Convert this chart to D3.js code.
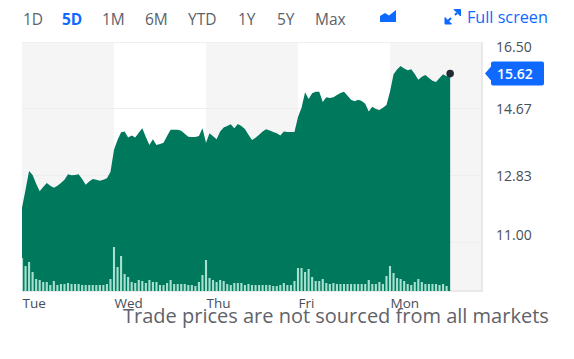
<!DOCTYPE html>
<html>
<head>
<meta charset="utf-8">
<script src="https://cdn.jsdelivr.net/npm/d3@7"></script>
<style>
  html, body { margin: 0; padding: 0; background: #fff; }
  svg { display: block; }
  text { font-family: "Open Sans", sans-serif; }
</style>
</head>
<body>
<div id="chart"></div>
<script>
// 15 minute samples over the five sessions, 26 samples per session
const dayLabels = ["Tue", "Wed", "Thu", "Fri", "Mon"];
const samplesPerDay = 26;
const rangeLabels = ["1D", "5D", "1M", "6M", "YTD", "1Y", "5Y", "Max"];
const priceTicks = [16.5, 14.67, 12.83, 11.0];
const lastPrice = 15.62;

const prices = [
  11.94, 12.43, 12.95, 12.84, 12.60, 12.39, 12.51, 12.62, 12.54, 12.49, 12.54, 12.62, 12.71,
  12.86, 12.83, 12.84, 12.86, 12.73, 12.57, 12.66, 12.73, 12.71, 12.68, 12.71, 12.75, 12.92,
  13.53, 13.80, 14.01, 14.03, 13.87, 13.92, 13.87, 14.00, 14.12, 13.88, 13.66, 13.82, 13.66,
  13.69, 13.72, 13.91, 14.08, 14.08, 14.08, 14.05, 13.97, 13.89, 13.88, 13.88, 13.91, 14.12,
  13.72, 13.98, 13.90, 13.82, 14.03, 14.14, 14.18, 14.23, 14.12, 14.24, 14.18, 14.10, 13.94,
  13.80, 13.86, 13.94, 14.03, 14.09, 14.06, 14.02, 13.98, 13.92, 14.03, 14.02, 14.02, 14.02,
  14.43, 14.68, 15.11, 14.92, 15.08, 15.12, 15.12, 14.84, 14.97, 14.95, 14.97, 15.03, 15.09,
  15.12, 15.01, 14.90, 14.86, 14.90, 14.87, 14.79, 14.58, 14.71, 14.65, 14.62, 14.68, 14.76,
  15.12, 15.60, 15.73, 15.83, 15.76, 15.71, 15.74, 15.61, 15.45, 15.53, 15.58, 15.50, 15.42,
  15.39, 15.50, 15.60, 15.55, 15.62,
];

const volumes = [
  33, 25, 29, 19, 12, 11, 9, 9, 6, 10, 6, 7, 7, 8, 7, 7, 7, 6, 6, 6, 6, 6, 6, 6, 7, 12,
  44, 24, 35, 17, 14, 9, 8, 11, 10, 8, 11, 9, 9, 6, 6, 8, 11, 7, 7, 7, 7, 6, 6, 5, 9, 16,
  31, 13, 11, 9, 11, 10, 7, 6, 8, 8, 8, 6, 7, 6, 6, 6, 6, 6, 6, 5, 5, 6, 8, 6, 6, 10,
  23, 23, 19, 22, 14, 10, 10, 12, 8, 7, 8, 7, 7, 7, 7, 7, 7, 7, 7, 7, 11, 7, 7, 9, 7, 15,
  25, 18, 13, 12, 10, 7, 6, 9, 12, 9, 7, 7, 7, 7, 6, 7, 5,
];

const width = 574;
const height = 359;
const plot = { left: 22, right: 482, top: 42, bottom: 291 };
const green = "#00785c";
const blue = "#0f69ff";
const grey = "#5b636a";

const svg = d3
  .select("#chart")
  .append("svg")
  .attr("width", width)
  .attr("height", height);

const xScale = d3
  .scaleLinear()
  .domain([0, samplesPerDay * dayLabels.length])
  .range([plot.left, plot.right]);
// 16.50 sits on the top edge, 11.00 on the lowest grid line
const yScale = d3.scaleLinear().domain([11, 16.5]).range([242, 41.5]);
const volumeScale = d3
  .scaleLinear()
  .domain([0, 50])
  .range([plot.bottom, plot.bottom - 50]);

const dayStarts = dayLabels.map((_, i) => i * samplesPerDay);

// alternating session bands
svg
  .append("g")
  .selectAll("rect")
  .data(dayStarts.filter((_, i) => i % 2 === 0))
  .join("rect")
  .attr("x", (d) => xScale(d))
  .attr("y", plot.top)
  .attr("width", xScale(samplesPerDay) - xScale(0))
  .attr("height", plot.bottom - plot.top)
  .attr("fill", "#f5f5f6");

// grid lines
svg
  .append("g")
  .selectAll("line")
  .data(priceTicks.slice(1))
  .join("line")
  .attr("x1", plot.left)
  .attr("x2", plot.right)
  .attr("y1", (d) => Math.round(yScale(d)) + 0.5)
  .attr("y2", (d) => Math.round(yScale(d)) + 0.5)
  .attr("stroke", "#eeeeef");

// frame: faint top, heavier right and bottom
svg
  .append("line")
  .attr("x1", plot.left)
  .attr("x2", plot.right)
  .attr("y1", plot.top + 0.5)
  .attr("y2", plot.top + 0.5)
  .attr("stroke", "#f0f0f0");
svg
  .append("path")
  .attr(
    "d",
    `M${plot.left},${plot.bottom}H${plot.right}V${plot.top}`
  )
  .attr("fill", "none")
  .attr("stroke", "#e3e3e4")
  .attr("stroke-width", 1.5);

// price area
const area = d3
  .area()
  .x((_, i) => xScale(i))
  .y0(plot.bottom)
  .y1((d) => yScale(d));

svg.append("path").datum(prices).attr("d", area).attr("fill", green);

// volume bars, the first one is cut by the plot edge
const barWidth = 2.1;
svg
  .append("g")
  .selectAll("rect")
  .data(volumes)
  .join("rect")
  .attr("x", (_, i) => Math.max(plot.left, xScale(i) - barWidth / 2))
  .attr("y", (d) => volumeScale(d))
  .attr("width", (_, i) => (i === 0 ? barWidth / 2 : barWidth))
  .attr("height", (d) => volumeScale(0) - volumeScale(d))
  .attr("fill", "#a5e0d0");

// last price marker
svg
  .append("circle")
  .attr("cx", xScale(prices.length - 1))
  .attr("cy", yScale(lastPrice))
  .attr("r", 3.8)
  .attr("fill", "#232a31");

// x axis
const xAxis = d3
  .axisBottom(xScale)
  .tickValues(dayStarts)
  .tickFormat((_, i) => dayLabels[i])
  .tickSize(0);
svg
  .append("g")
  .attr("transform", `translate(0,${plot.bottom})`)
  .call(xAxis)
  .call((g) => g.select(".domain").remove())
  .call((g) =>
    g
      .selectAll("text")
      .attr("text-anchor", "start")
      .attr("dy", 0)
      .attr("y", 17)
      .style("font-family", '"Open Sans", sans-serif')
      .style("font-size", "13.5px")
      .attr("fill", "#464e56")
  );

// y axis, the outer labels are pulled inwards like on the source page
const labelNudge = new Map([[16.5, 5], [14.67, 0], [12.83, 0], [11.0, -8]]);
const yAxis = d3
  .axisRight(yScale)
  .tickValues(priceTicks)
  .tickFormat(d3.format(".2f"))
  .tickSize(0);
svg
  .append("g")
  .attr("transform", "translate(496,0)")
  .call(yAxis)
  .call((g) => g.select(".domain").remove())
  .call((g) =>
    g
      .selectAll("text")
      .attr("x", 0)
      .attr("dy", 0)
      .attr("y", (d) => labelNudge.get(d) + 5)
      .style("font-family", '"Open Sans", sans-serif')
      .style("font-size", "14px")
      .attr("fill", "#464e56")
  );

// last price label
const pillY = yScale(lastPrice);
svg
  .append("path")
  .attr(
    "d",
    `M485,${pillY}l6,-7v-3a2,2 0 0 1 2,-2h49a2,2 0 0 1 2,2v20a2,2 0 0 1 -2,2h-49a2,2 0 0 1 -2,-2v-3z`
  )
  .attr("fill", blue);
svg
  .append("text")
  .attr("x", 497)
  .attr("y", pillY + 5)
  .attr("fill", "#fff")
  .attr("font-size", 14)
  .attr("font-weight", 600)
  .text(d3.format(".2f")(lastPrice));

// range selector
const rangeX = [23, 62, 102, 145, 188, 238, 277, 315];
svg
  .append("g")
  .selectAll("text")
  .data(rangeLabels)
  .join("text")
  .attr("x", (_, i) => rangeX[i])
  .attr("y", 25)
  .attr("font-size", 15.5)
  .attr("font-weight", (d) => (d === "5D" ? 700 : 400))
  .attr("fill", (d) => (d === "5D" ? blue : grey))
  .text((d) => d);

// chart type icon
svg
  .append("path")
  .attr("d", "M380,22V16L385,13L389,15.5L396,10V22Z")
  .attr("fill", blue);

// full screen arrows
svg
  .append("path")
  .attr("d", "M454,9.5H460.5V16ZM445,17.5V24H451.5Z")
  .attr("fill", blue)
  .attr("stroke", blue)
  .attr("stroke-linejoin", "round");
svg
  .append("path")
  .attr("d", "M455,15L457,13M448,21L451,18")
  .attr("fill", "none")
  .attr("stroke", blue)
  .attr("stroke-width", 2);
svg
  .append("text")
  .attr("x", 467)
  .attr("y", 23)
  .attr("font-size", 16.2)
  .attr("fill", blue)
  .text("Full screen");

// footer note, it overlaps the day labels in the source too
svg
  .append("text")
  .attr("x", 123)
  .attr("y", 323)
  .attr("font-size", 20)
  .attr("fill", "#5f6368")
  .text("Trade prices are not sourced from all markets");
</script>
</body>
</html>
